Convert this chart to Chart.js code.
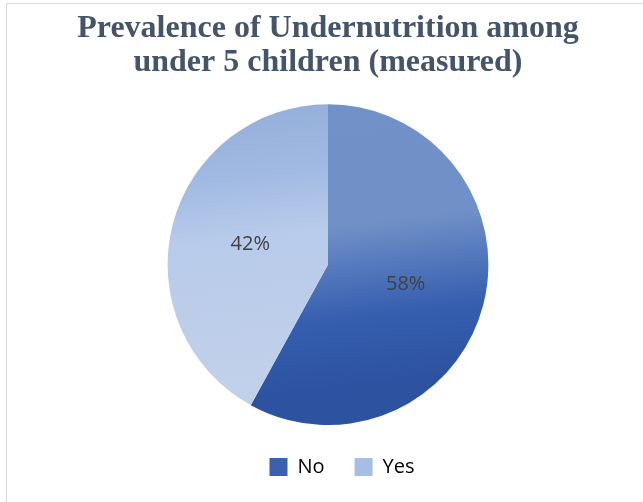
<!DOCTYPE html>
<html>
<head>
<meta charset="utf-8">
<script src="https://cdn.jsdelivr.net/npm/chart.js@4"></script>
<style>
  html, body { margin: 0; padding: 0; background: #fff; }
  #wrap { position: relative; width: 643px; height: 502px; }
  #frame {
    position: absolute; left: 6px; top: 3px; right: 0; bottom: 0;
    border-left: 1px solid #d9d9d9; border-top: 1px solid #d9d9d9;
    pointer-events: none;
  }
</style>
</head>
<body>
<div id="wrap">
  <canvas id="pieChart" width="643" height="502"></canvas>
  <div id="frame"></div>
</div>
<script>
// Chart data
const categories = ['No', 'Yes'];
const percentages = [58, 42];
const titleLines = ['Prevalence of Undernutrition among', 'under 5 children (measured)'];

// Gradient stops per slice (fraction of chart height, colour)
const sliceStops = [
    [[0, '#7291c8'], [0.5, '#7090c7'], [0.78, '#365fb0'], [1, '#2c52a0']],
    [[0, '#8eaad6'], [0.3, '#a0b9e2'], [0.5, '#b8cbea'], [1, '#c2d1eb']]
];
const legendColors = ['#3a60ae', '#a6bee4'];

function sliceGradient(context) {
    const chart = context.chart;
    const area = chart.chartArea;
    if (!area) return legendColors[context.dataIndex];
    const g = chart.ctx.createLinearGradient(area.left, area.top, area.left + 40, area.bottom);
    sliceStops[context.dataIndex].forEach(s => g.addColorStop(s[0], s[1]));
    return g;
}

// Writes the percentage inside each slice
const valueLabels = {
    id: 'valueLabels',
    afterDatasetsDraw(chart) {
        const ctx = chart.ctx;
        const meta = chart.getDatasetMeta(0);
        ctx.save();
        ctx.font = '20px "Open Sans", sans-serif';
        ctx.fillStyle = '#404040';
        ctx.textAlign = 'center';
        ctx.textBaseline = 'middle';
        meta.data.forEach((arc, i) => {
            const pos = arc.tooltipPosition();
            ctx.fillText(percentages[i] + '%', pos.x, pos.y);
        });
        ctx.restore();
    }
};

// Nudge the legend a little right and down of the pie's centre line
const legendNudge = {
    id: 'legendNudge',
    afterLayout(chart) {
        const lg = chart.legend;
        lg.left += 14;
        lg.right += 14;
        lg.top += 2;
        lg.bottom += 2;
    }
};

const chart = new Chart(document.getElementById('pieChart'), {
    type: 'pie',
    data: {
        labels: categories,
        datasets: [{
            data: percentages,
            backgroundColor: sliceGradient,
            borderWidth: 0
        }]
    },
    options: {
        responsive: false,
        animation: false,
        layout: {
            padding: { left: 13, right: 0, top: 0, bottom: 17 }
        },
        plugins: {
            title: {
                display: true,
                text: titleLines,
                color: '#44546a',
                font: { family: '"Liberation Serif", serif', size: 32, weight: 'bold', lineHeight: 1.05 },
                padding: { top: 12, bottom: 25 }
            },
            legend: {
                position: 'bottom',
                labels: {
                    boxWidth: 18,
                    boxHeight: 18,
                    padding: 30,
                    color: '#4a5363',
                    font: { family: '"Open Sans", sans-serif', size: 20 },
                    generateLabels: function(chart) {
                        return categories.map((c, i) => ({
                            text: c,
                            fillStyle: legendColors[i],
                            strokeStyle: legendColors[i],
                            lineWidth: 0,
                            index: i
                        }));
                    }
                }
            },
            tooltip: { enabled: false }
        }
    },
    plugins: [valueLabels, legendNudge]
});
</script>
</body>
</html>
